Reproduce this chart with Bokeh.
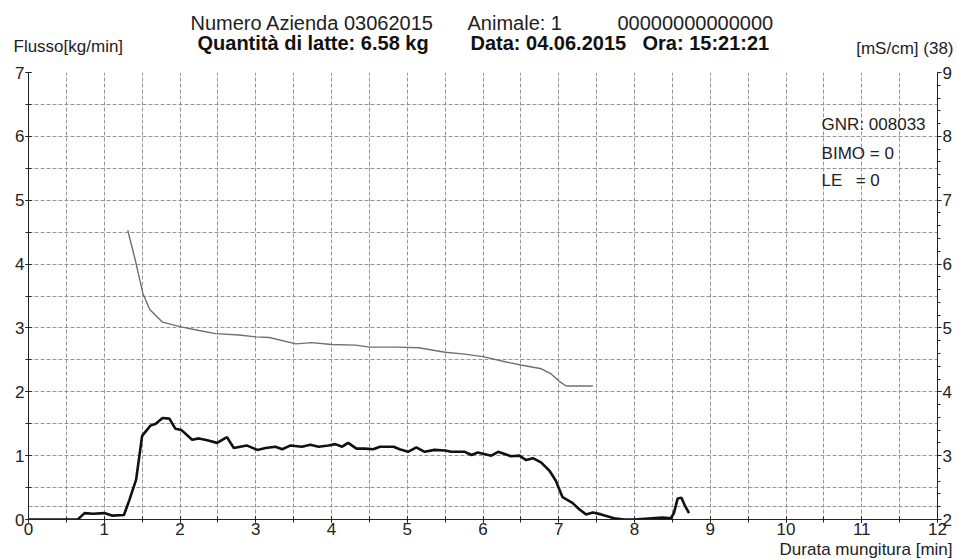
from bokeh.plotting import figure
from bokeh.models import Range1d, LinearAxis, FixedTicker, Label, Title
from bokeh.layouts import column
from bokeh.embed import file_html
from bokeh.resources import INLINE

# ---- data ----
flow_t = [0.0, 0.65, 0.74, 0.85, 1.0, 1.11, 1.26, 1.33, 1.42, 1.50, 1.61, 1.68, 1.77, 1.86, 1.94,
          2.02, 2.16, 2.25, 2.36, 2.49, 2.62, 2.71, 2.88, 3.02, 3.13, 3.26, 3.35, 3.46, 3.61, 3.72,
          3.83, 3.96, 4.05, 4.14, 4.22, 4.33, 4.44, 4.55, 4.64, 4.82, 4.90, 5.01, 5.12, 5.23, 5.36,
          5.50, 5.58, 5.76, 5.85, 5.93, 6.11, 6.20, 6.37, 6.48, 6.57, 6.66, 6.77, 6.88, 6.96, 7.05,
          7.18, 7.27, 7.36, 7.45, 7.56, 7.73, 7.86, 8.0, 8.37, 8.48, 8.52, 8.57, 8.62, 8.66, 8.72]
flow_kg = [0.0, 0.0, 0.10, 0.09, 0.10, 0.06, 0.07, 0.30, 0.62, 1.31, 1.47, 1.50, 1.59, 1.58, 1.42,
           1.40, 1.25, 1.27, 1.24, 1.20, 1.29, 1.12, 1.16, 1.09, 1.12, 1.14, 1.10, 1.16, 1.14, 1.17,
           1.14, 1.16, 1.18, 1.14, 1.20, 1.11, 1.11, 1.10, 1.14, 1.14, 1.10, 1.06, 1.13, 1.06, 1.09,
           1.08, 1.06, 1.06, 1.01, 1.05, 1.00, 1.06, 0.99, 1.00, 0.93, 0.96, 0.89, 0.76, 0.61, 0.35,
           0.26, 0.16, 0.08, 0.11, 0.08, 0.02, 0.0, 0.0, 0.03, 0.02, 0.10, 0.33, 0.34, 0.23, 0.10]

cond_t = [1.31, 1.41, 1.51, 1.60, 1.77, 2.0, 2.25, 2.47, 2.78, 3.0, 3.18, 3.53, 3.74, 4.0,
          4.32, 4.5, 4.86, 5.15, 5.5, 5.76, 6.0, 6.29, 6.5, 6.77, 6.9, 7.01, 7.1, 7.45]
cond_ms = [6.53, 6.06, 5.54, 5.29, 5.09, 5.02, 4.96, 4.91, 4.89, 4.86, 4.85, 4.75, 4.77, 4.74,
           4.73, 4.70, 4.70, 4.69, 4.62, 4.59, 4.55, 4.47, 4.42, 4.36, 4.28, 4.16, 4.09, 4.09]

x_ticks = list(range(0, 13))
x_minor = [i * 0.5 for i in range(0, 25)]
y_ticks = list(range(0, 8))
y_minor = [i * 0.5 for i in range(0, 15)]
r_ticks = list(range(2, 10))
r_minor = [round(2 + i * 0.2, 1) for i in range(0, 36)]
xgrid_lines = [i * 0.5 for i in range(1, 24)]
ygrid_lines = [0.2] + [i * 0.5 for i in range(1, 15)]

header1 = ["Numero Azienda 03062015", "Animale: 1", "00000000000000"]
header2 = ["Quantità di latte: 6.58 kg", "Data: 04.06.2015", "Ora: 15:21:21"]
info = ["GNR: 008033", "BIMO = 0", "LE", "= 0"]

FONT = "Liberation Sans"
W = 954
H_HEAD = 64
H_MAIN = 494

# ---- header strip ----
h = figure(width=W, height=H_HEAD, output_backend="svg", toolbar_location=None,
           x_range=Range1d(0, W), y_range=Range1d(0, H_HEAD),
           x_axis_type=None, y_axis_type=None, min_border=0)
h.grid.visible = False
h.outline_line_color = None
for txt, x in zip(header1, [190, 467, 617]):
    h.add_layout(Label(x=x, y=42, text=txt, text_font=FONT, text_font_size="20px",
                       text_color="#222222", text_baseline="alphabetic"))
for txt, x in zip(header2, [197, 470, 642]):
    h.add_layout(Label(x=x, y=22, text=txt, text_font=FONT, text_font_size="20px",
                       text_font_style="bold", text_color="#111111", text_baseline="alphabetic"))
h.add_layout(Label(x=13, y=18, text="Flusso[kg/min]", text_font=FONT, text_font_size="17px",
                   text_color="#222222", text_baseline="alphabetic"))
h.add_layout(Label(x=953, y=16, text="[mS/cm] (38)", text_font=FONT, text_font_size="17px",
                   text_color="#222222", text_baseline="alphabetic", text_align="right"))

# ---- main chart ----
p = figure(width=W, height=H_MAIN, output_backend="svg", toolbar_location=None,
           x_range=Range1d(0, 12), y_range=Range1d(0, 7),
           min_border_left=28, min_border_right=10, min_border_top=8, min_border_bottom=10)
p.extra_y_ranges = {"cond": Range1d(2, 9)}
p.outline_line_color = None

# keep the header strip's frame independent of the chart's frame
if "frame_align" in h.properties():
    h.frame_align = False
    p.frame_align = False

p.xgrid.ticker = FixedTicker(ticks=xgrid_lines)
p.ygrid.ticker = FixedTicker(ticks=ygrid_lines)
for g in (p.xgrid, p.ygrid):
    g.grid_line_color = "#959595"
    g.grid_line_dash = "4 2"
    g.grid_line_width = 1

def style_axis(ax, tin, tout, mtin, mtout):
    ax.axis_line_color = "#222222"
    ax.major_tick_line_color = "#222222"
    ax.minor_tick_line_color = "#222222"
    ax.major_tick_in = tin
    ax.major_tick_out = tout
    ax.minor_tick_in = mtin
    ax.minor_tick_out = mtout
    ax.major_label_text_font = FONT
    ax.major_label_text_font_size = "17px"
    ax.major_label_text_color = "#222222"
    ax.major_label_standoff = 1

xa = p.xaxis[0]
xa.ticker = FixedTicker(ticks=x_ticks, minor_ticks=x_minor)
style_axis(xa, 3, 3, 3, 3)
xa.major_label_standoff = 0

ya = p.yaxis[0]
ya.ticker = FixedTicker(ticks=y_ticks, minor_ticks=y_minor)
style_axis(ya, 3, 3, 3, 3)

ra = LinearAxis(y_range_name="cond", ticker=FixedTicker(ticks=r_ticks, minor_ticks=r_minor))
style_axis(ra, 0, 4, 0, 3)
p.add_layout(ra, "right")

p.add_layout(Title(text="Durata mungitura [min]", align="right", offset=-15, standoff=0,
                   text_font=FONT, text_font_size="17px", text_font_style="normal",
                   text_color="#222222"), "below")

p.line(cond_t, cond_ms, y_range_name="cond", line_color="#707070", line_width=1.4)
p.line(flow_t, flow_kg, line_color="#111111", line_width=2.6)

for txt, x, y in zip(info, [10.47, 10.47, 10.47, 10.92], [6.18, 5.73, 5.31, 5.31]):
    p.add_layout(Label(x=x, y=y, text=txt, text_font=FONT, text_font_size="17px",
                       text_color="#222222", text_baseline="alphabetic"))

layout = column(h, p, spacing=0)
open("out.html", "w").write(file_html(layout, INLINE))
